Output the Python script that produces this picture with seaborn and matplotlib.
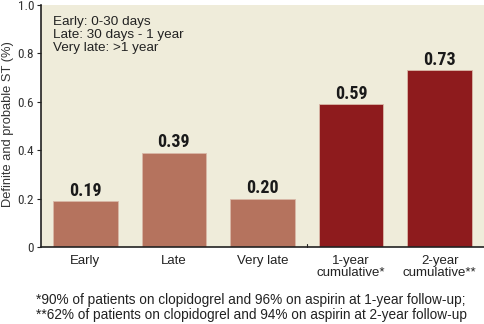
import matplotlib
matplotlib.use("Agg")
import matplotlib.pyplot as plt
import seaborn as sns
import pandas as pd
from matplotlib import font_manager

categories = ["Early", "Late", "Very late", "1-year\ncumulative*", "2-year\ncumulative**"]
values = [0.19, 0.39, 0.20, 0.59, 0.73]
value_labels = ["0.19", "0.39", "0.20", "0.59", "0.73"]
kinds = ["period", "period", "period", "cumulative", "cumulative"]
yticks = [0, 0.2, 0.4, 0.6, 0.8, 1.0]
ytick_labels = ["0", "0.2", "0.4", "0.6", "0.8", "1.0"]

sns.set_theme(style="white")
plt.rcParams["font.family"] = ["Liberation Sans", "DejaVu Sans"]

# look for a condensed face among installed fonts
cond_name = None
cands = ["Roboto Condensed", "Open Sans Condensed", "Liberation Sans Narrow",
         "DejaVu Sans Condensed", "Noto Sans Condensed", "Arial Narrow"]
names = {f.name for f in font_manager.fontManager.ttflist}
for c in cands:
    if c in names:
        cond_name = c
        break
if cond_name is None:
    for f in font_manager.fontManager.ttflist:
        if "condensed" in str(f.stretch).lower() or "Condensed" in f.name or "Narrow" in f.name:
            cond_name = f.name
            break

df = pd.DataFrame({"cat": categories, "val": values, "kind": kinds})
palette = {"period": "#B5735E", "cumulative": "#8E1B1D"}

fig = plt.figure(figsize=(4.85, 3.24), dpi=100)
ax = fig.add_axes([41/485, 1 - 247/324, 443/485, 242/324])
ax.set_facecolor("#EFECDA")
sns.barplot(data=df, x="cat", y="val", hue="kind", palette=palette, dodge=False,
            width=0.73, legend=False, ax=ax, edgecolor="#D9B8A8", linewidth=0.6, saturation=1)
ax.set_xlim(-0.5, 4.5)
ax.set_ylim(0, 1.0)
ax.set_yticks(yticks)
if cond_name:
    ax.set_yticklabels(ytick_labels, fontfamily=cond_name, fontsize=9.5, color="#333333")
else:
    ax.set_yticklabels(ytick_labels, fontsize=8.5, color="#333333")
ax.set_xticks([0, 1, 2, 3, 4])
ax.set_xticklabels(categories, fontsize=9.5, color="#222222", linespacing=0.95)
ax.tick_params(axis="x", length=0, pad=6)
ax.tick_params(axis="y", length=3, width=0.8, color="#222222", left=True, pad=2)
ax.set_xlabel("")
ax.set_ylabel("Definite and probable ST (%)", fontsize=9.3, color="#333333")
ax.yaxis.set_label_coords(-0.061, 0.508)
for s in ["top", "right"]:
    ax.spines[s].set_visible(False)
for s in ["left", "bottom"]:
    ax.spines[s].set_color("#222222")
    ax.spines[s].set_linewidth(1.2)
# separator tick between period and cumulative groups
ax.plot([2.5, 2.5], [0, 0.012], color="#222222", lw=0.8, clip_on=False)

for i, (v, lab) in enumerate(zip(values, value_labels)):
    if cond_name:
        ax.text(i, v + 0.005, lab, ha="center", va="bottom", fontsize=13, fontweight="bold",
                fontfamily=cond_name, color="#1A1A1A")
    else:
        ax.text(i, v + 0.005, lab, ha="center", va="bottom", fontsize=11, fontweight="bold",
                color="#1A1A1A")

ax.text(0.027, 0.955, "Early: 0-30 days\nLate: 30 days - 1 year\nVery late: >1 year",
        transform=ax.transAxes, ha="left", va="top", fontsize=9.7, color="#222222",
        linespacing=1.1)

fig.text(251/485, 1 - 293/324,
         "*90% of patients on clopidogrel and 96% on aspirin at 1-year follow-up;\n"
         "**62% of patients on clopidogrel and 94% on aspirin at 2-year follow-up",
         ha="center", va="top", fontsize=9.8, color="#222222", linespacing=1.05)

fig.savefig("out.png", dpi=100)
